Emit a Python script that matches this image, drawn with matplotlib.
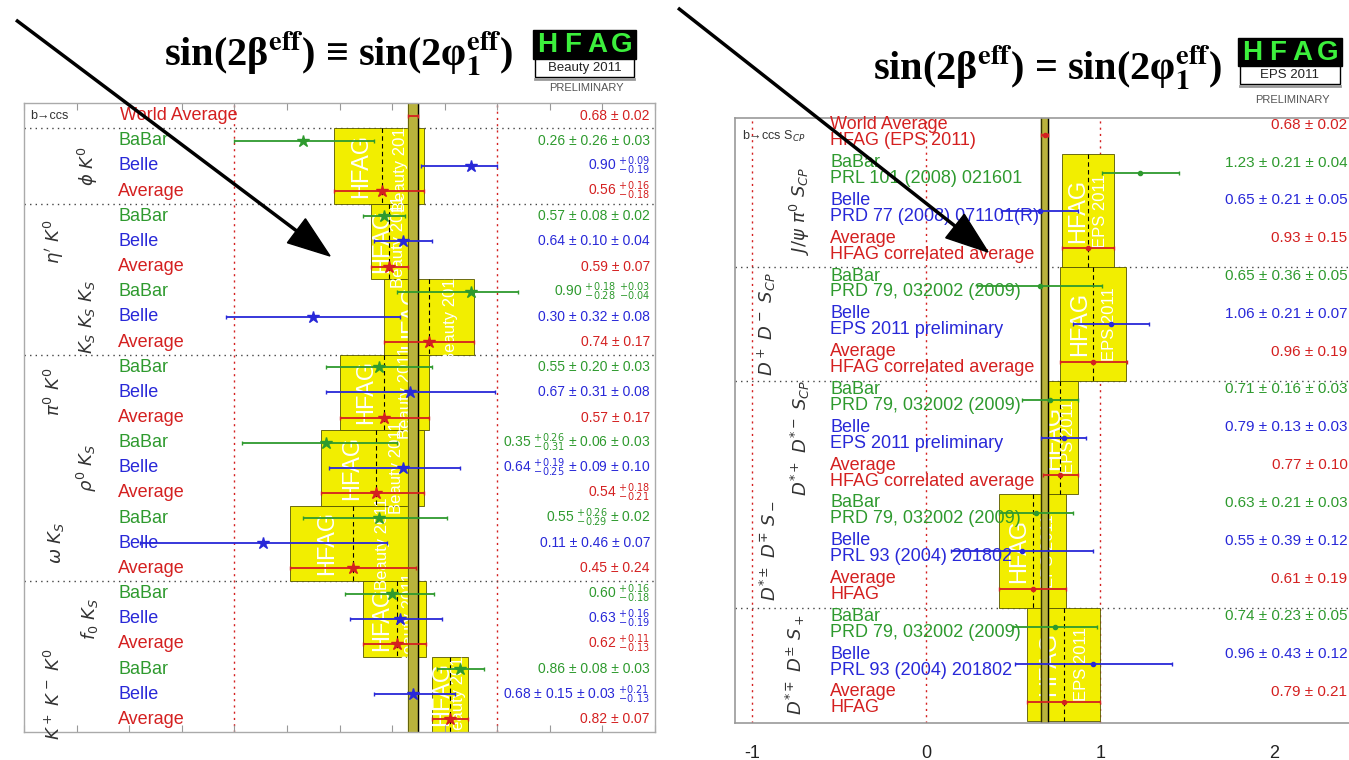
import matplotlib
matplotlib.use("Agg")
import matplotlib.pyplot as plt
from matplotlib.patches import Rectangle, Polygon
import numpy as np

# ---------------- data: left panel (Beauty 2011) ----------------
left_labels = ["World Average",
               "BaBar", "Belle", "Average",
               "BaBar", "Belle", "Average",
               "BaBar", "Belle", "Average",
               "BaBar", "Belle", "Average",
               "BaBar", "Belle", "Average",
               "BaBar", "Belle", "Average",
               "BaBar", "Belle", "Average",
               "BaBar", "Belle", "Average"]
left_values = [0.68, 0.26, 0.90, 0.56, 0.57, 0.64, 0.59, 0.90, 0.30, 0.74,
               0.55, 0.67, 0.57, 0.35, 0.64, 0.54, 0.55, 0.11, 0.45,
               0.60, 0.63, 0.62, 0.86, 0.68, 0.82]
left_err_lo = [0.02, 0.26, 0.19, 0.18, 0.08, 0.11, 0.07, 0.28, 0.33, 0.17,
               0.20, 0.32, 0.17, 0.32, 0.28, 0.21, 0.29, 0.47, 0.24,
               0.18, 0.19, 0.13, 0.09, 0.15, 0.07]
left_err_hi = [0.02, 0.27, 0.10, 0.16, 0.08, 0.11, 0.07, 0.18, 0.33, 0.17,
               0.20, 0.32, 0.17, 0.27, 0.22, 0.18, 0.26, 0.47, 0.24,
               0.16, 0.16, 0.11, 0.09, 0.16, 0.07]
left_texts = ["0.68 ± 0.02",
              "0.26 ± 0.26 ± 0.03", r"0.90 $^{+0.09}_{-0.19}$", r"0.56 $^{+0.16}_{-0.18}$",
              "0.57 ± 0.08 ± 0.02", "0.64 ± 0.10 ± 0.04", "0.59 ± 0.07",
              r"0.90 $^{+0.18}_{-0.28}$ $^{+0.03}_{-0.04}$", "0.30 ± 0.32 ± 0.08", "0.74 ± 0.17",
              "0.55 ± 0.20 ± 0.03", "0.67 ± 0.31 ± 0.08", "0.57 ± 0.17",
              r"0.35 $^{+0.26}_{-0.31}$ ± 0.06 ± 0.03", r"0.64 $^{+0.19}_{-0.25}$ ± 0.09 ± 0.10",
              r"0.54 $^{+0.18}_{-0.21}$",
              r"0.55 $^{+0.26}_{-0.29}$ ± 0.02", "0.11 ± 0.46 ± 0.07", "0.45 ± 0.24",
              r"0.60 $^{+0.16}_{-0.18}$", r"0.63 $^{+0.16}_{-0.19}$", r"0.62 $^{+0.11}_{-0.13}$",
              "0.86 ± 0.08 ± 0.03", r"0.68 ± 0.15 ± 0.03 $^{+0.21}_{-0.13}$", "0.82 ± 0.07"]
left_groups = [r"$\phi\ K^0$", r"$\eta^{\prime}\ K^0$", r"$K_S\ K_S\ K_S$", r"$\pi^0\ K^0$",
               r"$\rho^0\ K_S$", r"$\omega\ K_S$", r"$f_0\ K_S$", r"$K^+\ K^-\ K^0$"]
left_ticks = [-0.8, -0.6, -0.4, -0.2, 0.0, 0.2, 0.4, 0.6, 0.8, 1.0, 1.2, 1.4, 1.6]
left_ticklabels = ["-0.8", "-0.6", "-0.4", "-0.2", "0", "0.2", "0.4", "0.6", "0.8", "1", "1.2", "1.4", "1.6"]

# ---------------- data: right panel (EPS 2011) ----------------
right_labels = ["World Average",
                "BaBar", "Belle", "Average",
                "BaBar", "Belle", "Average",
                "BaBar", "Belle", "Average",
                "BaBar", "Belle", "Average",
                "BaBar", "Belle", "Average"]
right_refs = ["HFAG (EPS 2011)",
              "PRL 101 (2008) 021601", "PRD 77 (2008) 071101(R)", "HFAG correlated average",
              "PRD 79, 032002 (2009)", "EPS 2011 preliminary", "HFAG correlated average",
              "PRD 79, 032002 (2009)", "EPS 2011 preliminary", "HFAG correlated average",
              "PRD 79, 032002 (2009)", "PRL 93 (2004) 201802", "HFAG",
              "PRD 79, 032002 (2009)", "PRL 93 (2004) 201802", "HFAG"]
right_values = [0.68, 1.23, 0.65, 0.93, 0.65, 1.06, 0.96, 0.71, 0.79, 0.77,
                0.63, 0.55, 0.61, 0.74, 0.96, 0.79]
right_errors = [0.02, 0.22, 0.22, 0.15, 0.36, 0.22, 0.19, 0.16, 0.13, 0.10,
                0.21, 0.41, 0.19, 0.24, 0.45, 0.21]
right_texts = ["0.68 ± 0.02", "1.23 ± 0.21 ± 0.04", "0.65 ± 0.21 ± 0.05", "0.93 ± 0.15",
               "0.65 ± 0.36 ± 0.05", "1.06 ± 0.21 ± 0.07", "0.96 ± 0.19",
               "0.71 ± 0.16 ± 0.03", "0.79 ± 0.13 ± 0.03", "0.77 ± 0.10",
               "0.63 ± 0.21 ± 0.03", "0.55 ± 0.39 ± 0.12", "0.61 ± 0.19",
               "0.74 ± 0.23 ± 0.05", "0.96 ± 0.43 ± 0.12", "0.79 ± 0.21"]
right_groups = [r"$J/\psi\ \pi^0\ S_{CP}$", r"$D^+\ D^-\ S_{CP}$", r"$D^{*+}\ D^{*-}\ S_{CP}$",
                r"$D^{*\pm}\ D^{\mp}\ S_-$", r"$D^{*\mp}\ D^{\pm}\ S_+$"]
right_ticks = [-1, 0, 1, 2]
right_ticklabels = ["-1", "0", "1", "2"]

# ---------------- style ----------------
GREEN = "#2e9a2e"
BLUE = "#2828d8"
RED = "#d42020"
YELLOW = "#f2ee00"
BAND = "#b9b33c"
COLOR_OF = {"BaBar": GREEN, "Belle": BLUE}
SANS = "Liberation Sans"

W, H = 1349, 760
fig = plt.figure(figsize=(W / 100, H / 100), dpi=100)


def rect(x0, y0, x1, y1):
    return [x0 / W, 1 - y1 / H, (x1 - x0) / W, (y1 - y0) / H]


def add_box(ax, lo, hi, r0, r1, txt1, txt2, fs1, fs2):
    box = Rectangle((lo, r0), hi - lo, r1 - r0, facecolor=YELLOW, edgecolor="#555500",
                    lw=0.6, zorder=1)
    ax.add_patch(box)
    w = hi - lo
    for frac, t, fs in ((0.3, txt1, fs1), (0.74, txt2, fs2)):
        tt = ax.text(lo + frac * w, (r0 + r1) / 2, t, rotation=90, color="white",
                     fontsize=fs, ha="center", va="center", family=SANS, zorder=1.5)
        tt.set_clip_path(box)


# ================= LEFT PANEL =================
axL = fig.add_axes(rect(24, 103, 655, 732))
axL.set_xlim(-0.8, 1.6)
n_left = len(left_values)
axL.set_ylim(n_left - 0.5, -0.5)


def lx(px):
    return -0.8 + (px - 24) / (631 / 2.4)


for g in range(8):
    r_avg = 3 * g + 3
    lo = left_values[r_avg] - left_err_lo[r_avg]
    hi = left_values[r_avg] + left_err_hi[r_avg]
    add_box(axL, lo, hi, 3 * g + 0.5, 3 * g + 3.5, "HFAG", "Beauty 2011", 17, 12)
    axL.plot([left_values[r_avg]] * 2, [3 * g + 0.5, 3 * g + 3.5], color="black",
             lw=0.8, ls=(0, (4, 3)), zorder=2)

wa_lo = left_values[0] - left_err_lo[0]
wa_hi = left_values[0] + left_err_hi[0]
axL.axvspan(wa_lo, wa_hi, color=BAND, zorder=2)
axL.axvline(wa_hi, color="black", lw=1.0, zorder=2.1)
axL.axvline(wa_lo, color="#555500", lw=0.6, zorder=2.1)

for v in (0.0, 1.0):
    axL.axvline(v, color=RED, lw=1.0, ls=(0, (1.5, 3)), zorder=0.5)
for s in (0.5, 3.5, 9.5, 18.5):
    axL.axhline(s, color="#444444", lw=1.0, ls=(0, (1, 3)), zorder=0.6)

for i in range(n_left):
    name = left_labels[i]
    c = COLOR_OF.get(name, RED)
    axL.errorbar(left_values[i], i, xerr=[[left_err_lo[i]], [left_err_hi[i]]],
                 fmt="*" if i > 0 else "none", color=c, ms=9, lw=1.3, capsize=1.5,
                 zorder=3)
    axL.text(lx(118 if i > 0 else 120), i, name, color=c, fontsize=13, family=SANS,
             ha="left", va="center", zorder=4)
    axL.text(lx(650), i, left_texts[i], color=c, fontsize=10, family=SANS,
             ha="right", va="center", zorder=4)

axL.text(lx(30), 0, "b→ccs", fontsize=9, color="#333333", family=SANS,
         ha="left", va="center")
group_x_left = [88, 54, 87, 54, 87, 56, 89, 54]
for g in range(8):
    axL.text(lx(group_x_left[g]), 3 * g + 2, left_groups[g], rotation=90, fontsize=13,
             color="#333333", ha="center", va="center")

axL.set_yticks([])
axL.set_xticks(left_ticks)
axL.set_xticklabels(left_ticklabels, fontsize=13, family=SANS, color="#222222")
axL.tick_params(axis="x", direction="in", top=True, length=5, color="#999999", pad=24)
for sp in axL.spines.values():
    sp.set_color("#aaaaaa")
    sp.set_linewidth(1.0)

# ================= RIGHT PANEL =================
PXU = 174.0
axR = fig.add_axes(rect(735, 118, 1361, 723))
axR.set_xlim(-1.1, -1.1 + (1361 - 735) / PXU)
n_right = len(right_values)
axR.set_ylim(n_right - 0.45, -0.45)


def rx(px):
    return (px - 926) / PXU


for g in range(5):
    r_avg = 3 * g + 3
    lo = right_values[r_avg] - right_errors[r_avg]
    hi = right_values[r_avg] + right_errors[r_avg]
    add_box(axR, lo, hi, 3 * g + 0.5, 3 * g + 3.5, "HFAG", "EPS 2011", 17, 12)
    axR.plot([right_values[r_avg]] * 2, [3 * g + 0.5, 3 * g + 3.5], color="black",
             lw=0.8, ls=(0, (4, 3)), zorder=2)

wa_lo = right_values[0] - right_errors[0]
wa_hi = right_values[0] + right_errors[0]
axR.axvspan(wa_lo, wa_hi, color=BAND, zorder=2)
axR.axvline(wa_hi, color="black", lw=1.0, zorder=2.1)
axR.axvline(wa_lo, color="#333300", lw=1.0, zorder=2.1)

for v in (-1.0, 0.0, 1.0):
    axR.axvline(v, color=RED, lw=1.0, ls=(0, (1.5, 3)), zorder=0.5)
for s in (3.5, 6.5, 12.5):
    axR.axhline(s, color="#444444", lw=1.0, ls=(0, (1, 3)), zorder=0.6)

for i in range(n_right):
    name = right_labels[i]
    c = COLOR_OF.get(name, RED)
    axR.errorbar(right_values[i], i, xerr=right_errors[i], fmt="o", color=c, ms=3,
                 lw=1.3, capsize=1.5, zorder=3)
    axR.text(rx(830), i - 0.27, name, color=c, fontsize=13, family=SANS,
             ha="left", va="center", zorder=4)
    axR.text(rx(830), i + 0.15, right_refs[i], color=c, fontsize=13, family=SANS,
             ha="left", va="center", zorder=4)
    axR.text(rx(1347), i - 0.27, right_texts[i], color=c, fontsize=11, family=SANS,
             ha="right", va="center", zorder=4)

axR.text(rx(742), 0.05, r"b→ccs S$_{CP}$", fontsize=9, color="#333333", family=SANS,
         ha="left", va="center")
group_x_right = [800, 766, 800, 768, 795]
for g in range(5):
    axR.text(rx(group_x_right[g]), 3 * g + 2, right_groups[g], rotation=90, fontsize=13,
             color="#333333", ha="center", va="center")

axR.set_yticks([])
axR.set_xticks(right_ticks)
axR.set_xticklabels(right_ticklabels, fontsize=13, family=SANS, color="#222222")
axR.tick_params(axis="x", direction="in", length=0, pad=16)
for sp in axR.spines.values():
    sp.set_color("#999999")
    sp.set_linewidth(1.2)

# ================= overlay: titles, logos, arrows =================
ov = fig.add_axes([0, 0, 1, 1], zorder=10)
ov.set_xlim(0, W)
ov.set_ylim(H, 0)
ov.axis("off")
ov.patch.set_alpha(0)

ov.text(339, 54, r"sin(2β$^{\mathbf{eff}}$) ≡ sin(2φ$_{\mathbf{1}}^{\mathbf{eff}}$)",
        fontsize=29, fontweight="bold", family="Liberation Serif", math_fontfamily="stix",
        ha="center", va="center")
ov.text(1048, 68, r"sin(2β$^{\mathbf{eff}}$) = sin(2φ$_{\mathbf{1}}^{\mathbf{eff}}$)",
        fontsize=29, fontweight="bold", family="Liberation Serif", math_fontfamily="stix",
        ha="center", va="center")


def logo(x0, y0, w, h, sub, prelim_dy):
    ov.add_patch(Rectangle((x0, y0), w, h, fc="black", ec="black"))
    for k, ch in enumerate("HFAG"):
        ov.text(x0 + w * (0.14 + 0.24 * k), y0 + h / 2 + 1, ch, color="#3cf03c",
                fontsize=20, fontweight="bold", family=SANS, ha="center", va="center")
    ov.add_patch(Rectangle((x0 + 2, y0 + h), w - 4, 18, fc="white", ec="black", lw=1))
    ov.plot([x0 + 2, x0 + w - 2], [y0 + h + 20, y0 + h + 20], color="#999999", lw=2)
    ov.text(x0 + w / 2, y0 + h + 9, sub, fontsize=9.5, family=SANS, color="#222222",
            ha="center", va="center")
    ov.text(x0 + w / 2 + 2, y0 + prelim_dy, "PRELIMINARY", fontsize=8, color="#555555",
            family=SANS, ha="center", va="center")


logo(533, 30, 103, 29, "Beauty 2011", 58)
logo(1238, 38, 104, 28, "EPS 2011", 62)


def arrow(x0, y0, x1, y1, head_len=42, head_w=15):
    d = np.array([x1 - x0, y1 - y0], float)
    L = np.hypot(*d)
    u = d / L
    nrm = np.array([-u[1], u[0]])
    base = np.array([x1, y1]) - u * head_len
    ov.plot([x0, base[0]], [y0, base[1]], color="black", lw=2.5, solid_capstyle="butt")
    pts = [(x1, y1), tuple(base + nrm * head_w), tuple(base - nrm * head_w)]
    ov.add_patch(Polygon(pts, closed=True, fc="black", ec="black"))


arrow(16, 20, 330, 256)
arrow(678, 8, 988, 252)

fig.savefig("out.png", dpi=100)
